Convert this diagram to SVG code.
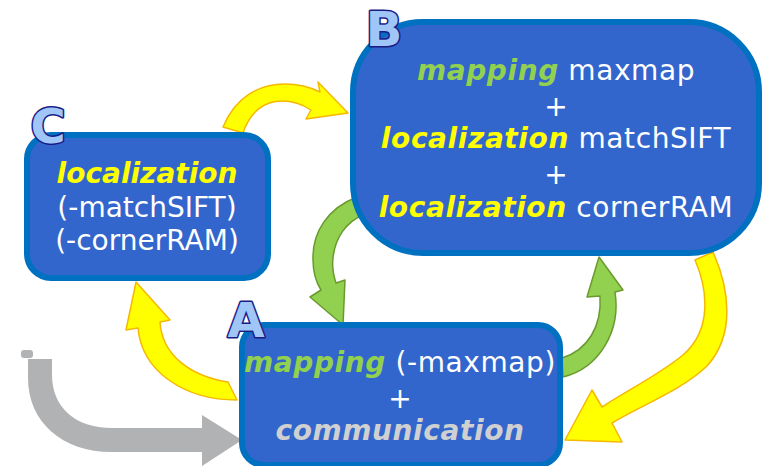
<svg xmlns="http://www.w3.org/2000/svg" width="767" height="466" viewBox="0 0 767 466">
  <style>
    .box { fill: #3366cc; stroke: #0070c0; stroke-width: 6; }
    .txt { font-family: "DejaVu Sans", Verdana, sans-serif; text-anchor: middle; font-size: 28px; fill: #ffffff; }
    .wide { letter-spacing: 0.6px; }
    .em { font-weight: bold; font-style: italic; }
    .map { fill: #92d050; }
    .loc { fill: #ffff00; }
    .com { fill: #d0d0d0; }
    .tag { font-family: "DejaVu Sans", Verdana, sans-serif; font-weight: bold; font-size: 48px; fill: #9fc6f7; stroke: #1b1b86; stroke-width: 3; paint-order: stroke; stroke-linejoin: round; text-anchor: middle; }
    .yel { fill: #ffff00; stroke: #f5b800; stroke-width: 1.5; stroke-linejoin: round; }
    .grn { fill: #92d050; stroke: #6a9a2e; stroke-width: 1.5; stroke-linejoin: round; }
    .gry { fill: #b1b2b4; }
  </style>

  <g id="connectors">
    <!-- C to B -->
    <path class="yel" d="M223,127 C235,98 258,84 285,84 C298,84 310,87 320,92 L318,82 L348,113 L306,119 L311,110 C302,104 292,101 282,101 C264,101 250,112 243,133 Z"/>
    <!-- B to A (green, left) -->
    <path class="grn" d="M357,197 C328,208 312,232 313,260 C313,272 316,282 321,290 L310,297 L343,325 L345,280 L336,283 C333,274 332,266 333,258 C335,238 346,222 363,215 Z"/>
    <!-- A to B (green, right) -->
    <path class="grn" d="M562,358 C588,350 602,326 600,296 L587,297 L599,257 L623,290 L615,292 C621,330 600,368 563,377 Z"/>
    <!-- B to A (yellow, right) -->
    <path class="yel" d="M695,260 C708,290 712,330 683,355 C660,374 628,390 602,407 L592,390 L565,440 L622,442 L612,423 C642,405 682,390 707,366 C735,335 730,290 713,252 Z"/>
    <!-- A to C (yellow, left) -->
    <path class="yel" d="M228,382 C190,376 162,355 160,322 L170,320 L136,282 L126,330 L138,328 C142,372 185,400 237,400 Z"/>
    <!-- incoming grey arrow into A -->
    <rect class="gry" x="21" y="350" width="12" height="8" rx="3"/>
    <path class="gry" d="M28,359 L52,359 L52,375 C52,407 75,428 112,428 L202,428 L202,415 L242,440 L202,466 L202,452 L112,452 C62,452 28,422 28,378 Z"/>
  </g>

  <g id="node-C">
    <rect class="box" x="27" y="135" width="241" height="143" rx="24"/>
    <text class="txt" x="147" y="183" font-size="27"><tspan class="em loc">localization</tspan></text>
    <text class="txt" x="147" y="217" font-size="27">(-matchSIFT)</text>
    <text class="txt" x="147" y="250" font-size="27">(-cornerRAM)</text>
    <text class="tag" x="48" y="143">C</text>
  </g>

  <g id="node-B">
    <rect class="box" x="353" y="22" width="406" height="231" rx="70"/>
    <text class="txt wide" x="556" y="80"><tspan class="em map">mapping</tspan> maxmap</text>
    <text class="txt" x="556" y="116">+</text>
    <text class="txt wide" x="556" y="148"><tspan class="em loc">localization</tspan> matchSIFT</text>
    <text class="txt" x="556" y="184">+</text>
    <text class="txt wide" x="556" y="217"><tspan class="em loc">localization</tspan> cornerRAM</text>
    <text class="tag" x="384" y="46">B</text>
  </g>

  <g id="node-A">
    <rect class="box" x="242" y="325" width="318" height="140" rx="22"/>
    <text class="txt wide" x="400" y="372"><tspan class="em map">mapping</tspan> (-maxmap)</text>
    <text class="txt" x="400" y="408">+</text>
    <text class="txt wide" x="400" y="440"><tspan class="em com">communication</tspan></text>
    <text class="tag" x="246" y="337">A</text>
  </g>
</svg>
